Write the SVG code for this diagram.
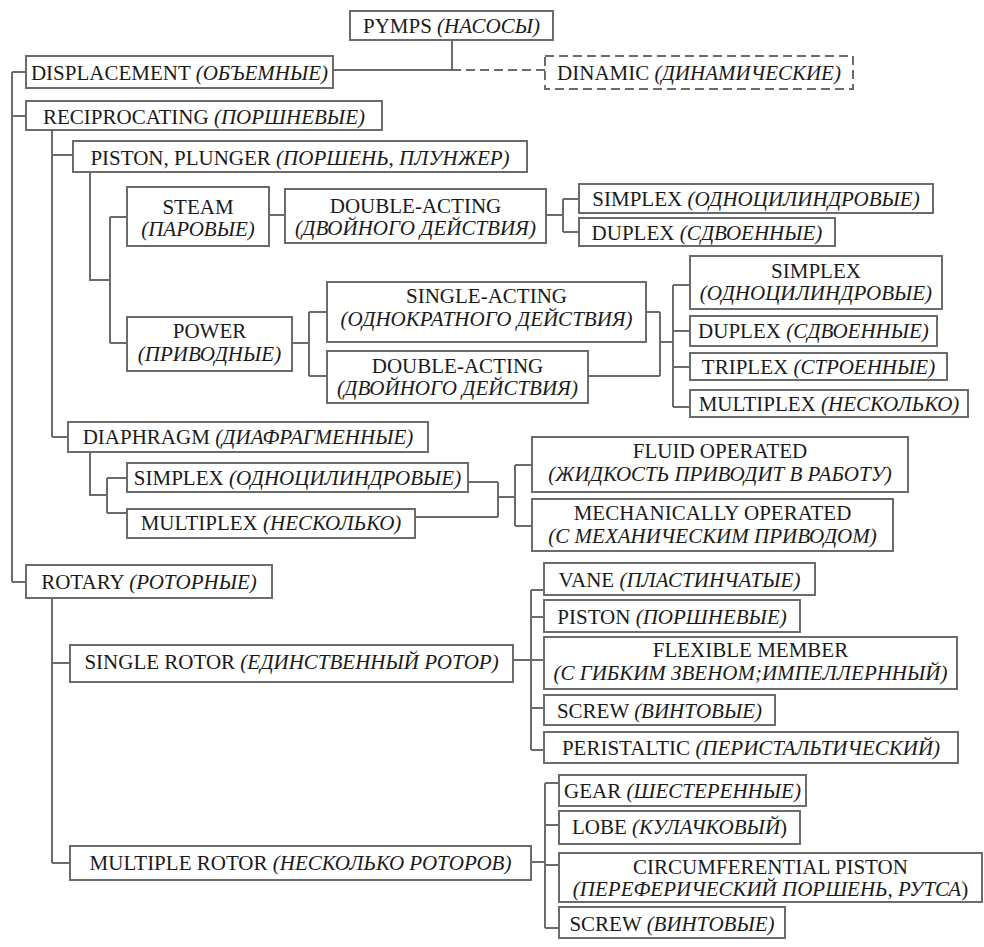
<svg xmlns="http://www.w3.org/2000/svg" width="984" height="947" viewBox="0 0 984 947">
<style>
.b{fill:#fff;stroke:#6b6b6b;stroke-width:2}
.d{fill:#fff;stroke:#6b6b6b;stroke-width:2;stroke-dasharray:9 5}
.t{font-family:"Liberation Serif","Times New Roman","DejaVu Serif",serif;font-size:21px;fill:#1a1a1a;text-anchor:middle}
.i{font-style:italic}
.c{fill:none;stroke:#6b6b6b;stroke-width:2}
.cd{fill:none;stroke:#6b6b6b;stroke-width:2;stroke-dasharray:9 5}
</style>
<rect width="984" height="947" fill="#fff"/>
<g id="connectors">
<path class="c" d="M452 40V70M333 70H452"/>
<path class="cd" d="M452 70H545"/>
<path class="c" d="M12 72V582M12 72H26M12 116H26M12 582H26"/>
<path class="c" d="M52 130V437M52 155H73M52 437H68"/>
<path class="c" d="M90 172V280H110M110 217V343M110 217H127M110 343H127"/>
<path class="c" d="M269 215H285M546 215H563M563 199V232M563 199H579M563 232H579"/>
<path class="c" d="M292 343H309M309 312V376M309 312H327M309 376H327"/>
<path class="c" d="M646 312H660M588 376H660M660 312V376M660 342H673M673 285V407M673 285H690M673 331H690M673 367H690M673 407H690"/>
<path class="c" d="M90 452V495H107M107 478V513M107 478H127M107 513H127"/>
<path class="c" d="M468 482H498M415 517H498M498 482V517M498 497H515M515 465V526M515 465H532M515 526H532"/>
<path class="c" d="M52 598V863M52 663H70M52 863H70"/>
<path class="c" d="M513 660H531M531 590V750M531 590H544M531 617H544M531 660H544M531 708H544M531 750H544"/>
<path class="c" d="M531 862H545M545 783V928M545 783H559M545 825H559M545 865H559M545 928H559"/>
</g>
<g id="pumps"><rect class="b" x="350" y="11" width="203" height="29"/><text class="t" x="451.5" y="33">PYMPS <tspan class="i">(НАСОСЫ)</tspan></text></g>
<g id="displacement"><rect class="b" x="26" y="56" width="307" height="32"/><text class="t" x="179.5" y="80">DISPLACEMENT <tspan class="i">(ОБЪЕМНЫЕ)</tspan></text></g>
<g id="dinamic"><rect class="d" x="545" y="56" width="308" height="33"/><text class="t" x="699" y="80">DINAMIC <tspan class="i">(ДИНАМИЧЕСКИЕ)</tspan></text></g>
<g id="reciprocating"><rect class="b" x="26" y="101" width="356" height="29"/><text class="t" x="204" y="124">RECIPROCATING <tspan class="i">(ПОРШНЕВЫЕ)</tspan></text></g>
<g id="piston-plunger"><rect class="b" x="73" y="141" width="454" height="31"/><text class="t" x="300" y="165">PISTON, PLUNGER <tspan class="i">(ПОРШЕНЬ, ПЛУНЖЕР)</tspan></text></g>
<g id="steam"><rect class="b" x="127" y="187" width="142" height="59"/><text class="t" x="198" y="214">STEAM</text><text class="t i" x="198" y="236">(ПАРОВЫЕ)</text></g>
<g id="steam-double-acting"><rect class="b" x="285" y="189" width="261" height="54"/><text class="t" x="415.5" y="213">DOUBLE-ACTING</text><text class="t i" x="415.5" y="235">(ДВОЙНОГО ДЕЙСТВИЯ)</text></g>
<g id="steam-simplex"><rect class="b" x="579" y="184" width="354" height="29"/><text class="t" x="756" y="206">SIMPLEX <tspan class="i">(ОДНОЦИЛИНДРОВЫЕ)</tspan></text></g>
<g id="steam-duplex"><rect class="b" x="579" y="218" width="256" height="28"/><text class="t" x="707" y="240">DUPLEX <tspan class="i">(СДВОЕННЫЕ)</tspan></text></g>
<g id="power"><rect class="b" x="127" y="317" width="165" height="54"/><text class="t" x="209.5" y="338">POWER</text><text class="t i" x="209.5" y="361">(ПРИВОДНЫЕ)</text></g>
<g id="single-acting"><rect class="b" x="327" y="282" width="319" height="60"/><text class="t" x="486.5" y="303">SINGLE-ACTING</text><text class="t i" x="486.5" y="326">(ОДНОКРАТНОГО ДЕЙСТВИЯ)</text></g>
<g id="power-double-acting"><rect class="b" x="327" y="351" width="261" height="52"/><text class="t" x="457.5" y="373">DOUBLE-ACTING</text><text class="t i" x="457.5" y="395">(ДВОЙНОГО ДЕЙСТВИЯ)</text></g>
<g id="power-simplex"><rect class="b" x="690" y="256" width="252" height="53"/><text class="t" x="816" y="278">SIMPLEX</text><text class="t i" x="816" y="300">(ОДНОЦИЛИНДРОВЫЕ)</text></g>
<g id="power-duplex"><rect class="b" x="690" y="316" width="247" height="30"/><text class="t" x="813.5" y="338">DUPLEX <tspan class="i">(СДВОЕННЫЕ)</tspan></text></g>
<g id="power-triplex"><rect class="b" x="690" y="353" width="257" height="27"/><text class="t" x="818.5" y="374">TRIPLEX <tspan class="i">(СТРОЕННЫЕ)</tspan></text></g>
<g id="power-multiplex"><rect class="b" x="690" y="390" width="278" height="27"/><text class="t" x="829" y="411">MULTIPLEX <tspan class="i">(НЕСКОЛЬКО)</tspan></text></g>
<g id="diaphragm"><rect class="b" x="68" y="422" width="360" height="30"/><text class="t" x="248" y="444">DIAPHRAGM <tspan class="i">(ДИАФРАГМЕННЫЕ)</tspan></text></g>
<g id="diaphragm-simplex"><rect class="b" x="127" y="463" width="341" height="29"/><text class="t" x="297.5" y="485">SIMPLEX <tspan class="i">(ОДНОЦИЛИНДРОВЫЕ)</tspan></text></g>
<g id="diaphragm-multiplex"><rect class="b" x="127" y="509" width="288" height="29"/><text class="t" x="271" y="530">MULTIPLEX <tspan class="i">(НЕСКОЛЬКО)</tspan></text></g>
<g id="fluid-operated"><rect class="b" x="532" y="437" width="376" height="55"/><text class="t" x="720" y="458">FLUID OPERATED</text><text class="t i" x="720" y="481">(ЖИДКОСТЬ ПРИВОДИТ В РАБОТУ)</text></g>
<g id="mechanically-operated"><rect class="b" x="532" y="499" width="361" height="52"/><text class="t" x="712.5" y="520">MECHANICALLY OPERATED</text><text class="t i" x="712.5" y="543">(С МЕХАНИЧЕСКИМ ПРИВОДОМ)</text></g>
<g id="rotary"><rect class="b" x="26" y="565" width="246" height="33"/><text class="t" x="149" y="589">ROTARY <tspan class="i">(РОТОРНЫЕ)</tspan></text></g>
<g id="single-rotor"><rect class="b" x="70" y="645" width="443" height="37"/><text class="t" x="291.5" y="669">SINGLE ROTOR <tspan class="i">(ЕДИНСТВЕННЫЙ РОТОР)</tspan></text></g>
<g id="vane"><rect class="b" x="544" y="563" width="271" height="32"/><text class="t" x="679.5" y="587">VANE <tspan class="i">(ПЛАСТИНЧАТЫЕ)</tspan></text></g>
<g id="rotor-piston"><rect class="b" x="544" y="600" width="256" height="32"/><text class="t" x="672" y="624">PISTON <tspan class="i">(ПОРШНЕВЫЕ)</tspan></text></g>
<g id="flexible-member"><rect class="b" x="544" y="637" width="413" height="52"/><text class="t" x="750.5" y="657">FLEXIBLE MEMBER</text><text class="t i" x="750.5" y="680">(С ГИБКИМ ЗВЕНОМ;ИМПЕЛЛЕРННЫЙ)</text></g>
<g id="single-screw"><rect class="b" x="544" y="695" width="231" height="30"/><text class="t" x="659.5" y="718">SCREW <tspan class="i">(ВИНТОВЫЕ)</tspan></text></g>
<g id="peristaltic"><rect class="b" x="544" y="732" width="414" height="31"/><text class="t" x="751" y="755">PERISTALTIC <tspan class="i">(ПЕРИСТАЛЬТИЧЕСКИЙ)</tspan></text></g>
<g id="multiple-rotor"><rect class="b" x="70" y="846" width="461" height="34"/><text class="t" x="300.5" y="870">MULTIPLE ROTOR <tspan class="i">(НЕСКОЛЬКО РОТОРОВ)</tspan></text></g>
<g id="gear"><rect class="b" x="559" y="775" width="247" height="31"/><text class="t" x="682.5" y="798">GEAR <tspan class="i">(ШЕСТЕРЕННЫЕ)</tspan></text></g>
<g id="lobe"><rect class="b" x="559" y="811" width="241" height="33"/><text class="t" x="679.5" y="834">LOBE <tspan class="i">(КУЛАЧКОВЫЙ</tspan>)</text></g>
<g id="circumferential-piston"><rect class="b" x="559" y="853" width="423" height="49"/><text class="t" x="770.5" y="874">CIRCUMFERENTIAL PISTON</text><text class="t" x="770.5" y="896"><tspan class="i">(ПЕРЕФЕРИЧЕСКИЙ ПОРШЕНЬ, РУТСА</tspan>)</text></g>
<g id="multiple-screw"><rect class="b" x="559" y="907" width="226" height="31"/><text class="t" x="672" y="931">SCREW <tspan class="i">(ВИНТОВЫЕ)</tspan></text></g>
</svg>
